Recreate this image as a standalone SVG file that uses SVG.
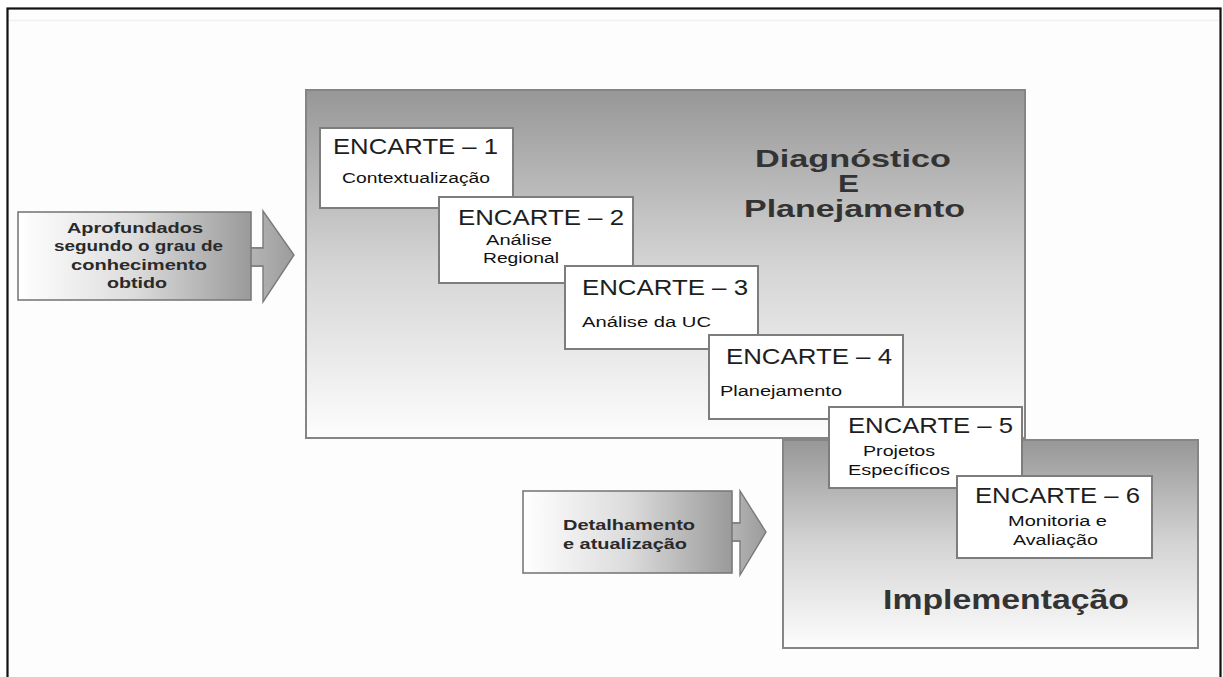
<svg xmlns="http://www.w3.org/2000/svg" width="1223" height="677" viewBox="0 0 1223 677">
<defs>
<linearGradient id="gv" x1="0" y1="0" x2="0" y2="1">
<stop offset="0" stop-color="#979797"/>
<stop offset="0.5" stop-color="#d4d4d4"/>
<stop offset="1" stop-color="#fdfdfd"/>
</linearGradient>
<linearGradient id="gh" x1="0" y1="0" x2="1" y2="0">
<stop offset="0" stop-color="#ffffff"/>
<stop offset="0.5" stop-color="#dcdcdc"/>
<stop offset="1" stop-color="#9a9a9a"/>
</linearGradient>
<linearGradient id="ghead" x1="0" y1="0" x2="1" y2="0">
<stop offset="0" stop-color="#b4b4b4"/>
<stop offset="1" stop-color="#9c9c9c"/>
</linearGradient>
<style>
.frame{fill:#fdfdfd;stroke:#111;stroke-width:2.2}
.stage{fill:url(#gv);stroke:#858585;stroke-width:2}
.card{fill:#ffffff;stroke:#7d7d7d;stroke-width:2}
.body{fill:url(#gh);stroke:#7a7a7a;stroke-width:1.6}
.head{fill:url(#ghead);stroke:#7a7a7a;stroke-width:1.4;stroke-linejoin:miter}
.enc{font-family:"Liberation Sans",Arial,sans-serif;font-size:22px;fill:#1e1e1e}
.sub{font-family:"Liberation Sans",Arial,sans-serif;font-size:14px;fill:#111111}
.ttl{font-family:"Liberation Sans",Arial,sans-serif;font-size:24px;font-weight:bold;fill:#333333}
.arr{font-family:"Liberation Sans",Arial,sans-serif;font-size:14px;font-weight:bold;fill:#2a2a2a}
</style>
</defs>
<rect x="0" y="0" width="1223" height="677" fill="#ffffff"/>
<rect class="frame" x="7.5" y="8.5" width="1213" height="680"/>
<line x1="9" y1="20.5" x2="1219" y2="20.5" stroke="#f1f1f1" stroke-width="1.5"/>

<g id="diagnostico-planejamento">
<rect class="stage" x="306" y="90" width="719" height="348"/>
<text class="ttl" x="755" y="167" textLength="196" lengthAdjust="spacingAndGlyphs">Diagnóstico</text>
<text class="ttl" x="838" y="192" textLength="21" lengthAdjust="spacingAndGlyphs" font-weight="normal">E</text>
<text class="ttl" x="744" y="217" textLength="221" lengthAdjust="spacingAndGlyphs">Planejamento</text>
</g>

<g id="implementacao">
<rect class="stage" x="783" y="440" width="415" height="208"/>
<text class="ttl" x="883" y="609" textLength="246" lengthAdjust="spacingAndGlyphs" style="font-size:27px">Implementação</text>
</g>

<g id="encarte-1">
<rect class="card" x="320" y="128" width="193" height="80"/>
<text class="enc" x="333" y="154" textLength="165" lengthAdjust="spacingAndGlyphs">ENCARTE – 1</text>
<text class="sub" x="342" y="183" textLength="148" lengthAdjust="spacingAndGlyphs">Contextualização</text>
</g>

<g id="encarte-2">
<rect class="card" x="439" y="197" width="194" height="86"/>
<text class="enc" x="458" y="225" textLength="166" lengthAdjust="spacingAndGlyphs">ENCARTE – 2</text>
<text class="sub" x="486" y="245" textLength="66" lengthAdjust="spacingAndGlyphs">Análise</text>
<text class="sub" x="483" y="263" textLength="76" lengthAdjust="spacingAndGlyphs">Regional</text>
</g>

<g id="encarte-3">
<rect class="card" x="565" y="266" width="193" height="83"/>
<text class="enc" x="582" y="295" textLength="166" lengthAdjust="spacingAndGlyphs">ENCARTE – 3</text>
<text class="sub" x="582" y="327" textLength="129" lengthAdjust="spacingAndGlyphs">Análise da UC</text>
</g>

<g id="encarte-4">
<rect class="card" x="709" y="335" width="194" height="84"/>
<text class="enc" x="726" y="364" textLength="166" lengthAdjust="spacingAndGlyphs">ENCARTE – 4</text>
<text class="sub" x="720" y="396" textLength="122" lengthAdjust="spacingAndGlyphs">Planejamento</text>
</g>

<g id="encarte-5">
<rect class="card" x="829" y="407" width="193" height="81"/>
<text class="enc" x="848" y="433" textLength="165" lengthAdjust="spacingAndGlyphs">ENCARTE – 5</text>
<text class="sub" x="863" y="456" textLength="72" lengthAdjust="spacingAndGlyphs">Projetos</text>
<text class="sub" x="848" y="475" textLength="102" lengthAdjust="spacingAndGlyphs">Específicos</text>
</g>

<g id="encarte-6">
<rect class="card" x="957" y="476" width="195" height="82"/>
<text class="enc" x="975" y="503" textLength="165" lengthAdjust="spacingAndGlyphs">ENCARTE – 6</text>
<text class="sub" x="1008" y="526" textLength="99" lengthAdjust="spacingAndGlyphs">Monitoria e</text>
<text class="sub" x="1013" y="545" textLength="85" lengthAdjust="spacingAndGlyphs">Avaliação</text>
</g>

<g id="connectors">
<g id="arrow-aprofundados">
<rect class="head" x="249" y="248" width="16" height="18" stroke="none"/>
<path class="head" d="M251,248 H263 V211 L294,255 L263,302 V266 H251"/>
<rect class="body" x="18" y="212" width="233" height="88"/>
<text class="arr" x="67" y="233" textLength="136" lengthAdjust="spacingAndGlyphs">Aprofundados</text>
<text class="arr" x="54" y="251" textLength="169" lengthAdjust="spacingAndGlyphs">segundo o grau de</text>
<text class="arr" x="71" y="270" textLength="136" lengthAdjust="spacingAndGlyphs">conhecimento</text>
<text class="arr" x="107" y="288" textLength="60" lengthAdjust="spacingAndGlyphs">obtido</text>
</g>
<g id="arrow-detalhamento">
<rect class="head" x="730" y="523" width="12" height="18" stroke="none"/>
<path class="head" d="M732,523 H740 V491 L766,532 L740,575 V541 H732"/>
<rect class="body" x="523" y="491" width="209" height="82"/>
<text class="arr" x="563" y="530" textLength="132" lengthAdjust="spacingAndGlyphs">Detalhamento</text>
<text class="arr" x="563" y="549" textLength="124" lengthAdjust="spacingAndGlyphs">e atualização</text>
</g>
</g>
</svg>
